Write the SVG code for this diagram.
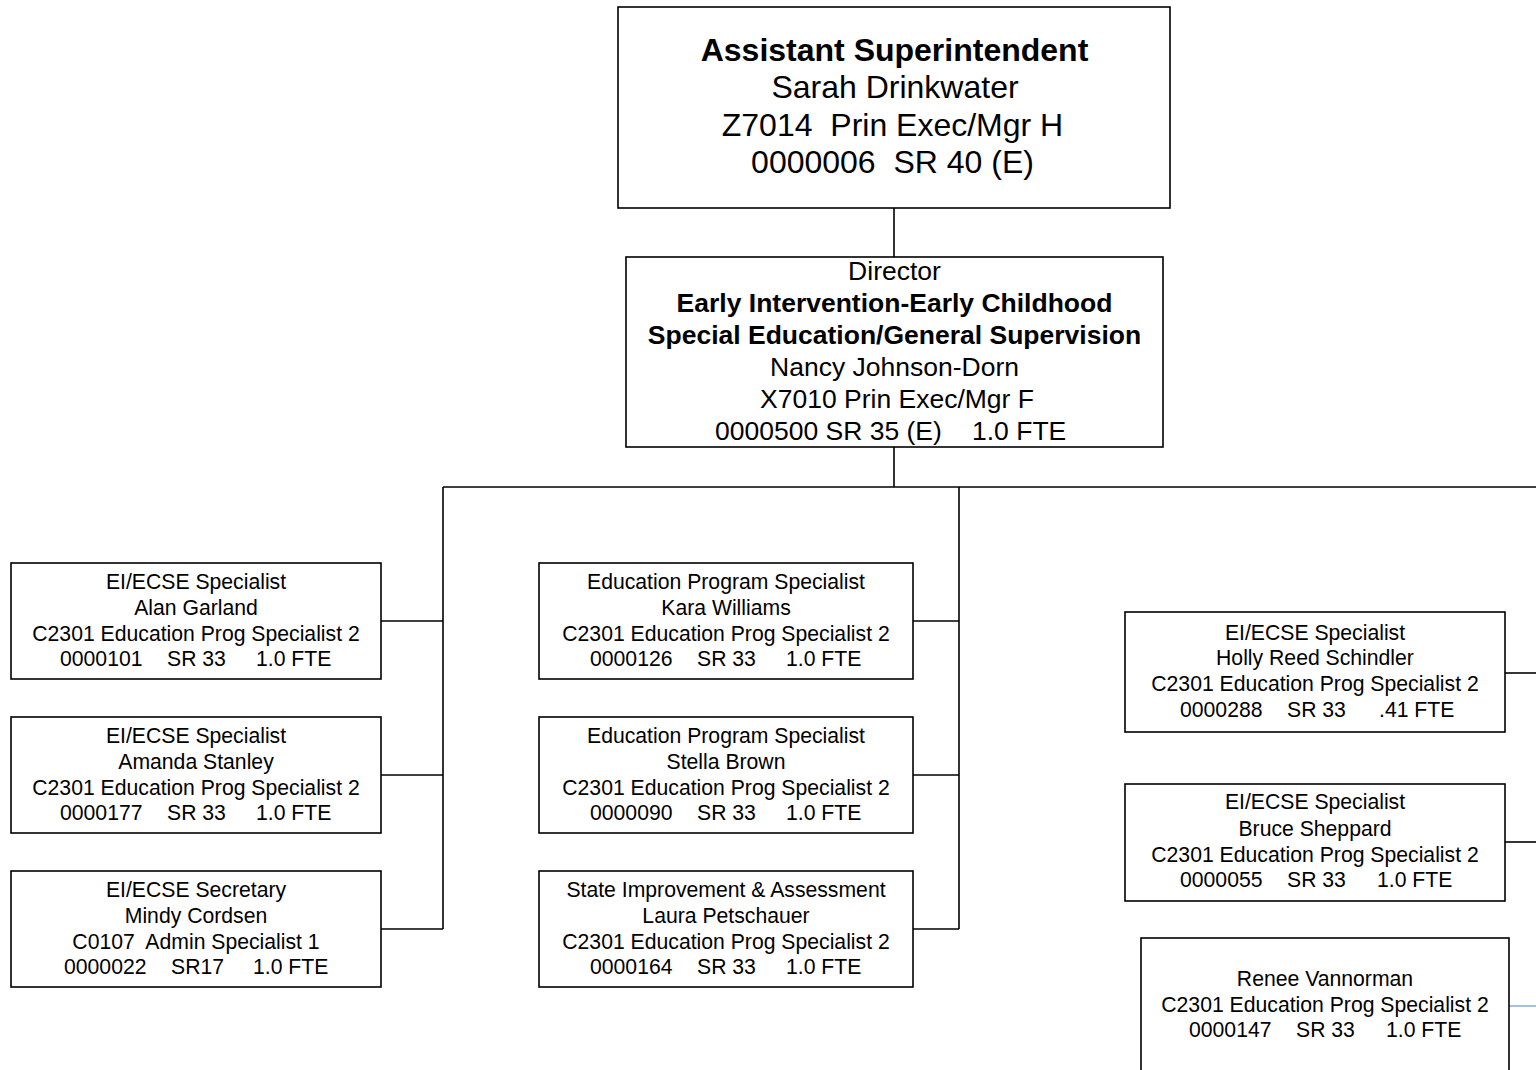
<svg xmlns="http://www.w3.org/2000/svg" width="1536" height="1070" viewBox="0 0 1536 1070">
<style>
  rect.box { fill: #ffffff; stroke: #000000; stroke-width: 1.6; }
  text { font-family: "Liberation Sans", Arial, sans-serif; fill: #000000; text-anchor: middle; }
  .t1 { font-size: 32px; }
  .t1b { font-size: 32px; font-weight: bold; }
  .t2 { font-size: 26.5px; }
  .t2b { font-size: 26.5px; font-weight: bold; }
  .t3 { font-size: 21.2px; }
  .st { text-anchor: start; }
  #connectors line { stroke: #000000; stroke-width: 1.6; }
  #connectors line.blue { stroke: #4f81bd; stroke-width: 1; }
</style>
<rect width="1536" height="1070" fill="#ffffff"/>

<g id="connectors">
  <line x1="894" y1="208" x2="894" y2="257"/>
  <line x1="894" y1="447" x2="894" y2="487"/>
  <line x1="443" y1="487" x2="1536" y2="487"/>
  <line x1="443" y1="487" x2="443" y2="929"/>
  <line x1="959" y1="487" x2="959" y2="929"/>
  <line x1="381" y1="621" x2="443" y2="621"/>
  <line x1="381" y1="775" x2="443" y2="775"/>
  <line x1="381" y1="929" x2="443" y2="929"/>
  <line x1="913" y1="621" x2="959" y2="621"/>
  <line x1="913" y1="775" x2="959" y2="775"/>
  <line x1="913" y1="929" x2="959" y2="929"/>
  <line x1="1505" y1="673" x2="1536" y2="673"/>
  <line x1="1505" y1="842" x2="1536" y2="842"/>
  <line class="blue" x1="1509" y1="1006" x2="1536" y2="1006"/>
</g>

<g id="assistant-superintendent">
  <rect class="box" x="618" y="7" width="552" height="201"/>
  <text class="t1b" x="894.5" y="61">Assistant Superintendent</text>
  <text class="t1" x="895" y="98">Sarah Drinkwater</text>
  <text class="t1" x="892.5" y="136" xml:space="preserve">Z7014  Prin Exec/Mgr H</text>
  <text class="t1" x="892.5" y="173" xml:space="preserve">0000006  SR 40 (E)</text>
</g>

<g id="director">
  <rect class="box" x="626" y="257" width="537" height="190"/>
  <text class="t2" x="894.5" y="280">Director</text>
  <text class="t2b" x="894.5" y="312">Early Intervention-Early Childhood</text>
  <text class="t2b" x="894.5" y="344">Special Education/General Supervision</text>
  <text class="t2" x="894.5" y="376">Nancy Johnson-Dorn</text>
  <text class="t2" x="897" y="408">X7010 Prin Exec/Mgr F</text>
  <text class="t2 st" x="715" y="440">0000500 SR 35 (E)<tspan x="972">1.0 FTE</tspan></text>
</g>

<g id="alan-garland">
  <rect class="box" x="11" y="563" width="370" height="116"/>
  <text class="t3" x="196" y="589">EI/ECSE Specialist</text>
  <text class="t3" x="196" y="615">Alan Garland</text>
  <text class="t3" x="196" y="641">C2301 Education Prog Specialist 2</text>
  <text class="t3 st" x="60" y="666">0000101<tspan x="167">SR 33</tspan><tspan x="256">1.0 FTE</tspan></text>
</g>

<g id="amanda-stanley">
  <rect class="box" x="11" y="717" width="370" height="116"/>
  <text class="t3" x="196" y="743">EI/ECSE Specialist</text>
  <text class="t3" x="196" y="769">Amanda Stanley</text>
  <text class="t3" x="196" y="795">C2301 Education Prog Specialist 2</text>
  <text class="t3 st" x="60" y="820">0000177<tspan x="167">SR 33</tspan><tspan x="256">1.0 FTE</tspan></text>
</g>

<g id="mindy-cordsen">
  <rect class="box" x="11" y="871" width="370" height="116"/>
  <text class="t3" x="196" y="897">EI/ECSE Secretary</text>
  <text class="t3" x="196" y="923">Mindy Cordsen</text>
  <text class="t3" x="196" y="949" xml:space="preserve">C0107  Admin Specialist 1</text>
  <text class="t3 st" x="64" y="974">0000022<tspan x="171">SR17</tspan><tspan x="253">1.0 FTE</tspan></text>
</g>

<g id="kara-williams">
  <rect class="box" x="539" y="563" width="374" height="116"/>
  <text class="t3" x="726" y="589">Education Program Specialist</text>
  <text class="t3" x="726" y="615">Kara Williams</text>
  <text class="t3" x="726" y="641">C2301 Education Prog Specialist 2</text>
  <text class="t3 st" x="590" y="666">0000126<tspan x="697">SR 33</tspan><tspan x="786">1.0 FTE</tspan></text>
</g>

<g id="stella-brown">
  <rect class="box" x="539" y="717" width="374" height="116"/>
  <text class="t3" x="726" y="743">Education Program Specialist</text>
  <text class="t3" x="726" y="769">Stella Brown</text>
  <text class="t3" x="726" y="795">C2301 Education Prog Specialist 2</text>
  <text class="t3 st" x="590" y="820">0000090<tspan x="697">SR 33</tspan><tspan x="786">1.0 FTE</tspan></text>
</g>

<g id="laura-petschauer">
  <rect class="box" x="539" y="871" width="374" height="116"/>
  <text class="t3" x="726" y="897">State Improvement &amp; Assessment</text>
  <text class="t3" x="726" y="923">Laura Petschauer</text>
  <text class="t3" x="726" y="949">C2301 Education Prog Specialist 2</text>
  <text class="t3 st" x="590" y="974">0000164<tspan x="697">SR 33</tspan><tspan x="786">1.0 FTE</tspan></text>
</g>

<g id="holly-reed-schindler">
  <rect class="box" x="1125" y="612" width="380" height="120"/>
  <text class="t3" x="1315" y="640">EI/ECSE Specialist</text>
  <text class="t3" x="1315" y="665">Holly Reed Schindler</text>
  <text class="t3" x="1315" y="691">C2301 Education Prog Specialist 2</text>
  <text class="t3 st" x="1180" y="717">0000288<tspan x="1287">SR 33</tspan><tspan x="1379">.41 FTE</tspan></text>
</g>

<g id="bruce-sheppard">
  <rect class="box" x="1125" y="784" width="380" height="117"/>
  <text class="t3" x="1315" y="809">EI/ECSE Specialist</text>
  <text class="t3" x="1315" y="836">Bruce Sheppard</text>
  <text class="t3" x="1315" y="862">C2301 Education Prog Specialist 2</text>
  <text class="t3 st" x="1180" y="887">0000055<tspan x="1287">SR 33</tspan><tspan x="1377">1.0 FTE</tspan></text>
</g>

<g id="renee-vannorman">
  <rect class="box" x="1141" y="938" width="368" height="140"/>
  <text class="t3" x="1325" y="986">Renee Vannorman</text>
  <text class="t3" x="1325" y="1012">C2301 Education Prog Specialist 2</text>
  <text class="t3 st" x="1189" y="1037">0000147<tspan x="1296">SR 33</tspan><tspan x="1386">1.0 FTE</tspan></text>
</g>
</svg>
